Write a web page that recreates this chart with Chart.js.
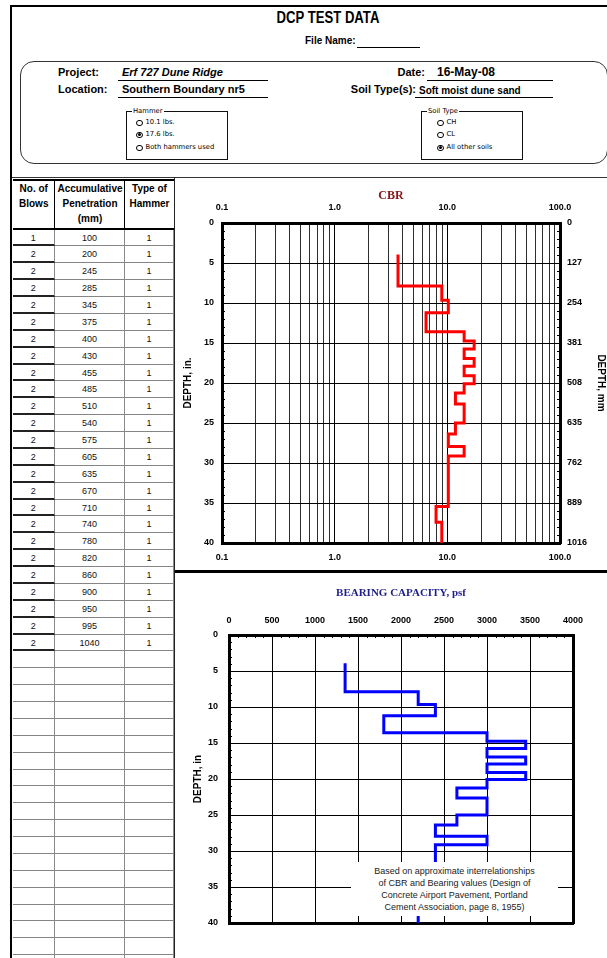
<!DOCTYPE html>
<html>
<head>
<meta charset="utf-8">
<title>DCP Test Data</title>
<script src="https://cdn.jsdelivr.net/npm/chart.js@4/dist/chart.umd.min.js"></script>
<style>
  html, body { margin: 0; padding: 0; background: #fff; }
  body { width: 607px; height: 958px; position: relative; overflow: hidden;
         font-family: "Liberation Sans", Arial, sans-serif; color: #000; }
  .abs { position: absolute; white-space: nowrap; }
  .lbl { font-weight: bold; font-size: 11px; line-height: 13px; }
  .rule { position: absolute; border-top: 1.5px solid #000; height: 0; }
  .group { position: absolute; border: 1.5px solid #111; }
  .legend { position: absolute; font: 6.8px "DejaVu Sans", sans-serif; background: #fff; padding: 0 1px; line-height: 8px; }
  .opt { position: absolute; font: 6.8px "DejaVu Sans", sans-serif; line-height: 8px; }
  .dot { display: inline-block; width: 6.5px; height: 6.5px; border: 1px solid #000; border-radius: 50%;
         vertical-align: -2px; margin-right: 3px; position: relative; box-sizing: border-box; }
  .dot.on::after { content: ""; position: absolute; left: 0.75px; top: 0.75px; width: 3px; height: 3px;
                   border-radius: 50%; background: #000; }
  .cell { position: absolute; box-sizing: border-box; text-align: center; font-size: 9px; color: #111; }
  .hcell { position: absolute; box-sizing: border-box; text-align: center; font-weight: bold; font-size: 10px; line-height: 15px; }
  canvas { position: absolute; }
  #note { position: absolute; left: 351px; top: 862px; width: 207px; height: 54px; background: #fff;
          text-align: center; font-size: 9px; line-height: 12px; color: #222; padding-top: 3px; box-sizing: border-box; }
</style>
</head>
<body>

<!-- outer frame -->
<div class="abs" style="left:10px;top:5px;width:640px;height:990px;border-left:2.5px solid #000;border-top:2px solid #000;"></div>

<!-- heading -->
<div class="abs" style="left:228px;top:8px;width:200px;text-align:center;font-weight:bold;font-size:16px;line-height:20px;transform:scaleX(0.82);transform-origin:100px 0;">DCP TEST DATA</div>
<div class="abs" style="left:305px;top:35px;font-weight:bold;font-size:10px;line-height:12px;">File Name:</div>
<div class="rule" style="left:357px;top:47px;width:63px;"></div>

<!-- project block -->
<div class="abs" style="left:20px;top:61px;width:586px;height:101px;border:1.5px solid #333;border-radius:14px;"></div>

<div class="abs lbl" style="left:58px;top:66px;">Project:</div>
<div class="abs lbl" style="left:122px;top:66px;font-style:italic;">Erf 727 Dune Ridge</div>
<div class="rule" style="left:118px;top:80px;width:150px;"></div>

<div class="abs lbl" style="left:58px;top:83px;">Location:</div>
<div class="abs lbl" style="left:122px;top:83px;">Southern Boundary nr5</div>
<div class="rule" style="left:118px;top:97px;width:150px;"></div>

<div class="abs lbl" style="left:325px;top:66px;width:100px;text-align:right;">Date:</div>
<div class="abs lbl" style="left:437px;top:65.5px;font-size:12px;">16-May-08</div>
<div class="rule" style="left:427px;top:80px;width:126px;"></div>

<div class="abs lbl" style="left:296px;top:83px;width:120px;text-align:right;">Soil Type(s):</div>
<div class="abs lbl" style="left:419px;top:83.5px;font-size:10px;">Soft moist dune sand</div>
<div class="rule" style="left:415px;top:97px;width:138px;"></div>

<!-- hammer selector -->
<div class="group" style="left:126px;top:111px;width:100px;height:47px;"></div>
<div class="legend" style="left:132px;top:107px;">Hammer</div>
<div class="opt" style="left:136px;top:118px;"><span class="dot"></span>10.1 lbs.</div>
<div class="opt" style="left:136px;top:130px;"><span class="dot on"></span>17.6 lbs.</div>
<div class="opt" style="left:136px;top:143px;"><span class="dot"></span>Both hammers used</div>

<!-- soil type selector -->
<div class="group" style="left:421px;top:111px;width:100px;height:47px;"></div>
<div class="legend" style="left:427px;top:107px;">Soil Type</div>
<div class="opt" style="left:437px;top:118px;"><span class="dot"></span>CH</div>
<div class="opt" style="left:437px;top:130px;"><span class="dot"></span>CL</div>
<div class="opt" style="left:437px;top:143px;"><span class="dot on"></span>All other soils</div>

<!-- section rules -->
<div class="abs" style="left:12px;top:177px;width:600px;height:0;border-top:1.5px solid #333;"></div>
<div class="abs" style="left:173.5px;top:178px;width:0;height:790px;border-left:1.5px solid #222;"></div>

<!-- blow count table -->
<div id="table"></div>

<!-- charts -->
<canvas id="cbrChart" width="431" height="390" style="left:176px;top:180px;"></canvas>
<div class="abs" style="left:175px;top:570px;width:440px;height:2.5px;background:#000;"></div>
<canvas id="bearingChart" width="431" height="384" style="left:176px;top:574px;"></canvas>

<div id="note">Based on approximate interrelationships<br>of CBR and Bearing values (Design of<br>Concrete Airport Pavement, Portland<br>Cement Association, page 8, 1955)</div>

<script>
// ---- field readings ----
const blowCount = [1, 2, 2, 2, 2, 2, 2, 2, 2, 2, 2, 2, 2, 2, 2, 2, 2, 2, 2, 2, 2, 2, 2, 2, 2];
const penetrationMm = [100, 200, 245, 285, 345, 375, 400, 430, 455, 485, 510, 540, 575, 605, 635,
                       670, 710, 740, 780, 820, 860, 900, 950, 995, 1040];
const hammerType = [1, 1, 1, 1, 1, 1, 1, 1, 1, 1, 1, 1, 1, 1, 1, 1, 1, 1, 1, 1, 1, 1, 1, 1, 1];

// CBR of each layer between successive readings
const cbrValues = [3.65, 8.93, 10.2, 6.47, 14.1, 17.3, 14.1, 17.3, 14.1, 17.3, 14.1, 11.8,
                   14.1, 14.1, 11.8, 10.2, 14.1, 10.2, 10.2, 10.2, 10.2, 7.94, 8.93, 8.93];
// bearing capacity (psf) of the same layers
const bearingPsf = [1350, 2200, 2400, 1800, 3000, 3450, 3000, 3450, 3000, 3450, 3000, 2650,
                    3000, 3000, 2650, 2400, 3000, 2400, 2400, 2400, 2400, 2050, 2200, 2200];

// ---- axis ticks ----
const cbrTickLabels = ['0.1', '1.0', '10.0', '100.0'];
const cbrGridValues = [0.1, 0.2, 0.3, 0.4, 0.5, 0.6, 0.7, 0.8, 0.9,
                       1, 2, 3, 4, 5, 6, 7, 8, 9,
                       10, 20, 30, 40, 50, 60, 70, 80, 90, 100];
const depthInTicks = [0, 5, 10, 15, 20, 25, 30, 35, 40];
const depthMmTicks = [0, 127, 254, 381, 508, 635, 762, 889, 1016];
const bearingTicks = [0, 500, 1000, 1500, 2000, 2500, 3000, 3500, 4000];

// ---- table ----
(function buildTable() {
  const host = document.getElementById('table');
  const cols = [12.5, 55, 125, 174];
  const headTop = 179, headBottom = 229.5, rowH = 16.875, rows = 44;
  const head = [['No. of', 'Blows'], ['Accumulative', 'Penetration', '(mm)'], ['Type of', 'Hammer']];
  let html = `<div class="abs" style="left:${cols[0]}px;top:${headTop}px;width:${cols[3]-cols[0]}px;height:${headBottom-headTop}px;border-top:2px solid #000;border-bottom:2px solid #000;box-sizing:border-box;"></div>`;
  head.forEach((lines, c) => {
    html += `<div class="hcell" style="left:${cols[c]}px;top:${headTop + 2}px;width:${cols[c+1]-cols[c]}px;">${lines.join('<br>')}</div>`;
    if (c > 0) html += `<div class="abs" style="left:${cols[c]-0.75}px;top:${headTop}px;height:${headBottom-headTop}px;border-left:1.5px solid #000;"></div>`;
  });
  for (let r = 0; r < rows; r++) {
    const top = headBottom + r * rowH;
    const filled = r < penetrationMm.length;
    const vals = filled ? [blowCount[r], penetrationMm[r], hammerType[r]] : ['', '', ''];
    for (let c = 0; c < 3; c++) {
      const bottom = (c === 0 && filled) ? '2px solid #222' : '1px solid #858585';
      html += `<div class="cell" style="left:${cols[c]}px;top:${top}px;width:${cols[c+1]-cols[c]}px;height:${rowH}px;line-height:${rowH}px;border-bottom:${bottom};border-right:1px solid #8a8a8a;">${vals[c]}</div>`;
    }
  }
  host.innerHTML = html;
})();

// ---- charts ----
const depthIn = penetrationMm.map(mm => mm / 25.4);
function stepPoints(values) {
  const pts = [];
  values.forEach((v, i) => {
    pts.push({ x: v, y: depthIn[i] });
    pts.push({ x: v, y: depthIn[i + 1] });
  });
  return pts;
}
const depthMinor = [];
for (let d = 1; d < 40; d++) if (d % 5) depthMinor.push(d);
const bearingMinor = [];
for (let b = 100; b < 4000; b += 100) if (b % 500) bearingMinor.push(b);

// short inward ticks along the plot frame
const minorTicks = {
  id: 'minorTicks',
  afterDatasetsDraw(chart, args, opts) {
    const { ctx, chartArea: a } = chart;
    ctx.save();
    ctx.strokeStyle = '#000';
    ctx.lineWidth = 1;
    (opts.marks || []).forEach(m => {
      const s = chart.scales[m.scale];
      m.values.forEach(v => {
        const p = Math.round(s.getPixelForValue(v)) + 0.5;
        ctx.beginPath();
        if (m.side === 'left') { ctx.moveTo(a.left, p); ctx.lineTo(a.left + m.len, p); }
        if (m.side === 'right') { ctx.moveTo(a.right, p); ctx.lineTo(a.right - m.len, p); }
        if (m.side === 'top') { ctx.moveTo(p, a.top); ctx.lineTo(p, a.top + m.len); }
        ctx.stroke();
      });
    });
    ctx.restore();
  }
};
Chart.register(minorTicks);

const sans = 'Liberation Sans, Arial, sans-serif';
const serif = 'Liberation Serif, Times New Roman, serif';
const tickFont = { family: sans, size: 9, weight: 'bold' };
const axisTitleFont = { family: sans, size: 10, weight: 'bold' };
const frame = { display: true, color: '#000', width: 3 };
const plain = v => String(v);
const isDecade = v => cbrTickLabels.some(t => Math.abs(parseFloat(t) - v) < 1e-9);
const cbrLabel = v => { const t = cbrTickLabels.find(t => Math.abs(parseFloat(t) - v) < 1e-9); return t || ''; };
const setTicks = list => s => { s.ticks = list.map(v => ({ value: v })); };

new Chart(document.getElementById('cbrChart'), {
  type: 'scatter',
  data: {
    datasets: [{
      data: stepPoints(cbrValues),
      showLine: true, borderColor: '#ff0000', borderWidth: 3,
      pointRadius: 0, tension: 0, fill: false, xAxisID: 'x', yAxisID: 'y'
    }]
  },
  options: {
    responsive: false, animation: false, devicePixelRatio: 1,
    layout: { padding: 0 },
    plugins: {
      legend: { display: false }, tooltip: { enabled: false },
      minorTicks: { marks: [
        { scale: 'y', side: 'left', values: depthMinor, len: 3 },
        { scale: 'y', side: 'right', values: depthMinor, len: 3 }
      ] }
    },
    scales: {
      x: {
        type: 'logarithmic', position: 'top', min: 0.1, max: 100,
        afterBuildTicks: setTicks(cbrGridValues),
        afterFit: s => { s.height = 43; },
        ticks: { autoSkip: false, maxRotation: 0, minRotation: 0, padding: 10, font: tickFont, color: '#000', callback: v => cbrLabel(v) },
        grid: { color: c => (c.tick && isDecade(c.tick.value)) ? '#000' : '#2e2e2e', lineWidth: 1, drawTicks: false },
        border: frame,
        title: { display: true, text: 'CBR', color: '#8b1414', font: { family: serif, size: 12, weight: 'bold' }, padding: { top: 9, bottom: 0 } }
      },
      x2: {
        type: 'logarithmic', position: 'bottom', min: 0.1, max: 100,
        afterBuildTicks: setTicks(cbrGridValues),
        afterFit: s => { s.height = 27; },
        ticks: { autoSkip: false, maxRotation: 0, minRotation: 0, padding: 9, font: tickFont, color: '#000', callback: v => cbrLabel(v) },
        grid: { display: false, drawTicks: false },
        border: frame
      },
      y: {
        type: 'linear', position: 'left', reverse: true, min: 0, max: 40,
        afterBuildTicks: setTicks(depthInTicks),
        afterFit: s => { s.width = 46; },
        ticks: { padding: 8, font: tickFont, color: '#000', callback: plain },
        grid: { color: '#000', lineWidth: 1, drawTicks: false },
        border: frame,
        title: { display: true, text: 'DEPTH, in.', color: '#000', font: axisTitleFont, padding: { top: 6, bottom: 0 } }
      },
      y2: {
        type: 'linear', position: 'right', reverse: true, min: 0, max: 1016,
        afterBuildTicks: setTicks(depthMmTicks),
        afterFit: s => { s.width = 47; },
        ticks: { padding: 7, font: tickFont, color: '#000', callback: plain },
        grid: { display: false, drawTicks: false },
        border: frame,
        title: { display: true, text: 'DEPTH, mm', color: '#000', font: axisTitleFont, padding: { top: 0, bottom: 0 } }
      }
    }
  }
});

new Chart(document.getElementById('bearingChart'), {
  type: 'scatter',
  data: {
    datasets: [{
      data: stepPoints(bearingPsf),
      showLine: true, borderColor: '#0000ff', borderWidth: 3,
      pointRadius: 0, tension: 0, fill: false, xAxisID: 'x', yAxisID: 'y'
    }]
  },
  options: {
    responsive: false, animation: false, devicePixelRatio: 1,
    layout: { padding: 0 },
    plugins: {
      legend: { display: false }, tooltip: { enabled: false },
      minorTicks: { marks: [
        { scale: 'y', side: 'left', values: depthMinor, len: 3 },
        { scale: 'x', side: 'top', values: bearingMinor, len: 3 }
      ] }
    },
    scales: {
      x: {
        type: 'linear', position: 'top', min: 0, max: 4000,
        afterBuildTicks: setTicks(bearingTicks),
        afterFit: s => { s.height = 61; },
        ticks: { autoSkip: false, maxRotation: 0, minRotation: 0, padding: 9, font: tickFont, color: '#000', callback: plain },
        grid: { color: '#000', lineWidth: 1, drawTicks: false },
        border: frame,
        title: { display: true, text: 'BEARING CAPACITY, psf', color: '#1f1f8c', font: { family: serif, size: 11, weight: 'bold' }, padding: { top: 13, bottom: 0 } }
      },
      x2: {
        type: 'linear', position: 'bottom', min: 0, max: 4000,
        afterFit: s => { s.height = 35; },
        ticks: { display: false },
        grid: { display: false, drawTicks: false },
        border: frame
      },
      y: {
        type: 'linear', position: 'left', reverse: true, min: 0, max: 40,
        afterBuildTicks: setTicks(depthInTicks),
        afterFit: s => { s.width = 53; },
        ticks: { padding: 11, font: tickFont, color: '#000', callback: plain },
        grid: { color: '#000', lineWidth: 1, drawTicks: false },
        border: frame,
        title: { display: true, text: 'DEPTH, in', color: '#000', font: axisTitleFont, padding: { top: 16, bottom: 0 } }
      },
      y2: {
        type: 'linear', position: 'right', reverse: true, min: 0, max: 40,
        afterFit: s => { s.width = 34; },
        ticks: { display: false },
        grid: { display: false, drawTicks: false },
        border: frame
      }
    }
  }
});
</script>
</body>
</html>
